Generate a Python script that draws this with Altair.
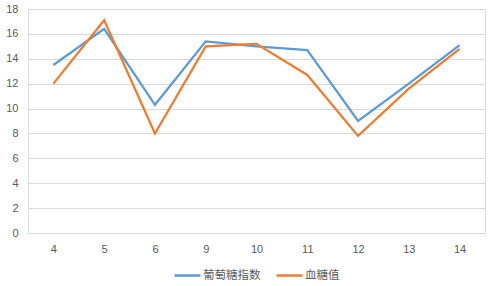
import altair as alt
import pandas as pd

categories = ["4", "5", "6", "9", "10", "11", "12", "13", "14"]
glucose_index = [13.5, 16.4, 10.3, 15.4, 15.0, 14.7, 9.0, 12.0, 15.1]
blood_sugar = [12.0, 17.1, 8.0, 15.0, 15.2, 12.7, 7.8, 11.6, 14.8]
series_names = ["葡萄糖指数", "血糖值"]

rows = []
for c, a, b in zip(categories, glucose_index, blood_sugar):
    rows.append({"cat": c, "series": series_names[0], "value": a})
    rows.append({"cat": c, "series": series_names[1], "value": b})
df = pd.DataFrame(rows)

chart = alt.Chart(df).mark_line(strokeWidth=2.25).encode(
    x=alt.X("cat:N", sort=categories, title=None,
            scale=alt.Scale(padding=0.5),
            axis=alt.Axis(labelAngle=0, ticks=False, domain=False, grid=False,
                          labelColor="#595959", labelFontSize=11, labelPadding=10,
                          labelFont="Liberation Sans")),
    y=alt.Y("value:Q", title=None,
            scale=alt.Scale(domain=[0, 18], nice=False),
            axis=alt.Axis(values=list(range(0, 19, 2)), ticks=False, domain=False,
                          gridColor="#d9d9d9", gridWidth=1, labelColor="#595959",
                          labelFontSize=11, labelPadding=10, labelFont="Liberation Sans")),
    color=alt.Color("series:N", title=None,
                    scale=alt.Scale(domain=series_names, range=["#5B9BD5", "#ED7D31"]),
                    legend=alt.Legend(orient="none", direction="horizontal",
                                      legendX=145, legendY=252,
                                      symbolType="stroke", symbolSize=676, symbolStrokeWidth=2.5,
                                      labelFont="Noto Sans CJK TC", labelFontSize=11.5,
                                      labelColor="#595959", columnPadding=10, labelOffset=1)),
).properties(
    width=457, height=224,
    autosize=alt.AutoSizeParams(type="none"),
    padding={"left": 28, "top": 9, "right": 15, "bottom": 53},
).configure_view(stroke=None).configure(background="white")

chart.save("out.html", embed_options={"renderer": "svg", "actions": False})
